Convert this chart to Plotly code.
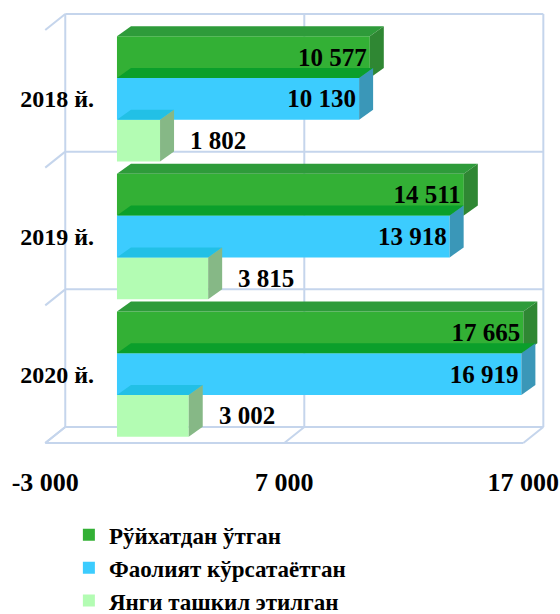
import plotly.graph_objects as go

# ---------------- data ----------------
categories = ["2018 й.", "2019 й.", "2020 й."]
series_names = ["Рўйхатдан ўтган", "Фаолият кўрсатаётган", "Янги ташкил этилган"]
registered = [10577, 14511, 17665]
active = [10130, 13918, 16919]
new_created = [1802, 3815, 3002]
x_tick_vals = [-3000, 7000, 17000]
AXIS_MIN, AXIS_MAX = -3000, 17000

# ---------------- styles ----------------
front_colors = ["#33B035", "#3CCCFE", "#B3FCB3"]
top_colors = ["#2E9B3A", "#0B9F2B", "#22C0E6"]
side_colors = ["#2F8733", "#3A97B8", "#86B886"]
grid_color = "#C5D5EC"
FONT = '"Liberation Serif", "Times New Roman", Times, serif'

W, H = 560, 614
X_RANGE = [-3400, 18300]
Y_RANGE = [2.6, -0.65]
x_dom = [0.06375, 0.99]
y_dom = [0.256, 0.98485]
BARGAP = 0.09

px_per_x = (x_dom[1] - x_dom[0]) * W / (X_RANGE[1] - X_RANGE[0])
px_per_y = (y_dom[1] - y_dom[0]) * H / (Y_RANGE[0] - Y_RANGE[1])
# depth vectors (in data units)
WALL_DX, WALL_DY = 20 / px_per_x, 16 / px_per_y
BAR_DX, BAR_DY = 14 / px_per_x, 10 / px_per_y


def fmt(v):
    return f"{v:,}".replace(",", " ")


series = [registered, active, new_created]
ypos = list(range(len(categories)))

fig = go.Figure()
for i, (name, vals) in enumerate(zip(series_names, series)):
    shown = [min(v, AXIS_MAX) for v in vals]
    inside = i < 2
    fig.add_trace(go.Bar(
        y=ypos, x=shown, orientation="h", name=name,
        legendgroup=name,
        marker=dict(color=front_colors[i], line=dict(width=0)),
        text=[fmt(v) for v in vals] if inside else None,
        textposition="inside" if inside else "none",
        insidetextanchor="end",
        textfont=dict(family=FONT, size=25, color="black", weight="bold"),
        hoverinfo="skip",
    ))

shapes = []
line = dict(color=grid_color, width=2)
ymin_c, ymax_c = -0.5, len(categories) - 0.5
# back wall verticals
for xv in x_tick_vals:
    shapes.append(dict(type="line", xref="x", yref="y", layer="below", line=line,
                       x0=xv + WALL_DX, x1=xv + WALL_DX,
                       y0=ymin_c - WALL_DY, y1=ymax_c - WALL_DY))
    # floor diagonals
    shapes.append(dict(type="line", xref="x", yref="y", layer="below", line=line,
                       x0=xv, x1=xv + WALL_DX, y0=ymax_c, y1=ymax_c - WALL_DY))
# back wall horizontals and left wall diagonals
bounds = [ymin_c + k for k in range(len(categories) + 1)]
for yb in bounds:
    shapes.append(dict(type="line", xref="x", yref="y", layer="below", line=line,
                       x0=AXIS_MIN + WALL_DX, x1=AXIS_MAX + WALL_DX,
                       y0=yb - WALL_DY, y1=yb - WALL_DY))
    shapes.append(dict(type="line", xref="x", yref="y", layer="below", line=line,
                       x0=AXIS_MIN, x1=AXIS_MIN + WALL_DX, y0=yb, y1=yb - WALL_DY))
# floor front edge
shapes.append(dict(type="line", xref="x", yref="y", layer="below", line=line,
                   x0=AXIS_MIN, x1=AXIS_MAX, y0=ymax_c, y1=ymax_c))

# 3D faces of bars
nser = len(series)
bw = (1 - BARGAP) / nser
annotations = []
for j in range(len(categories)):
    for i, vals in enumerate(series):
        v = min(vals[j], AXIS_MAX)
        yt = j - (1 - BARGAP) / 2 + i * bw
        yb = yt + bw
        top = (f"M 0,{yt} L {v},{yt} L {v + BAR_DX},{yt - BAR_DY} "
               f"L {BAR_DX},{yt - BAR_DY} Z")
        side = (f"M {v},{yt} L {v + BAR_DX},{yt - BAR_DY} "
                f"L {v + BAR_DX},{yb - BAR_DY} L {v},{yb} Z")
        shapes.append(dict(type="path", path=top, xref="x", yref="y", layer="above",
                           fillcolor=top_colors[i], line=dict(width=0)))
        shapes.append(dict(type="path", path=side, xref="x", yref="y", layer="above",
                           fillcolor=side_colors[i], line=dict(width=0)))
        if i == nser - 1:
            annotations.append(dict(
                x=v, y=(yt + yb) / 2, xref="x", yref="y", text=fmt(vals[j]),
                showarrow=False, xanchor="left", xshift=28,
                font=dict(family=FONT, size=25, color="black", weight="bold")))

fig.update_layout(
    template="none",
    width=W, height=H,
    margin=dict(l=0, r=0, t=0, b=0, pad=0, autoexpand=False),
    paper_bgcolor="white", plot_bgcolor="rgba(0,0,0,0)",
    barmode="group", bargap=BARGAP, bargroupgap=0,
    shapes=shapes, annotations=annotations,
    xaxis=dict(range=X_RANGE, domain=x_dom, showgrid=False, zeroline=False,
               showline=False, tickvals=x_tick_vals, automargin=False,
               ticktext=[fmt(v) for v in x_tick_vals], ticks="",
               ticklabelstandoff=7,
               tickfont=dict(family=FONT, size=26, color="black", weight="bold"),
               fixedrange=True),
    yaxis=dict(range=Y_RANGE, domain=y_dom, showgrid=False, zeroline=False,
               showline=False, tickvals=ypos, ticktext=categories, ticks="",
               anchor="free", position=0.168, automargin=False,
               tickfont=dict(family=FONT, size=24, color="black", weight="bold"),
               fixedrange=True),
    legend=dict(orientation="v", x=0.123, xanchor="left", y=0.164, yanchor="top",
                traceorder="normal", tracegroupgap=10,
                font=dict(family=FONT, size=23, color="black", weight="bold"),
                bgcolor="rgba(0,0,0,0)"),
    showlegend=True,
)

fig.write_html("out.html", config={"displayModeBar": False},
               post_script="document.body.style.margin='0px';")
